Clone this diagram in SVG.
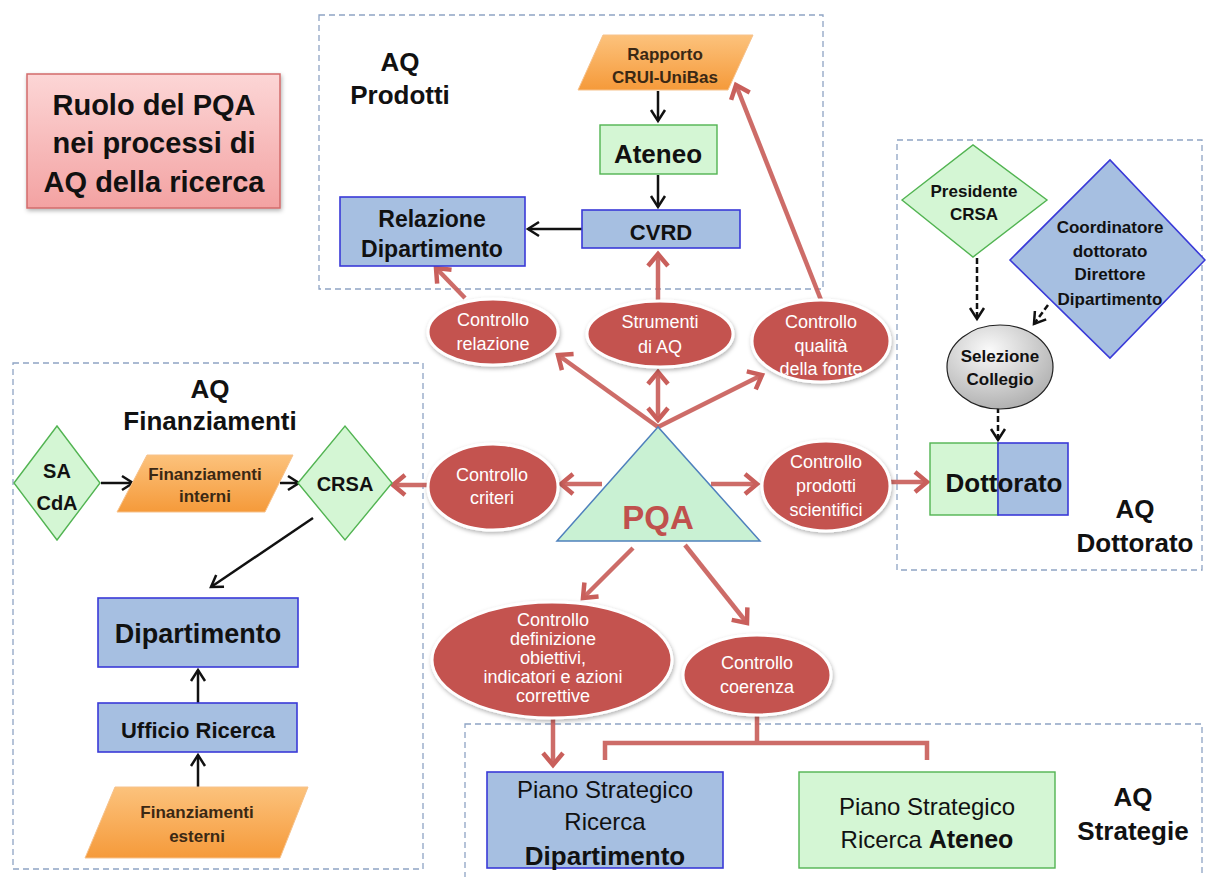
<svg xmlns="http://www.w3.org/2000/svg" width="1206" height="877" viewBox="0 0 1206 877">
<style>
text{font-family:"Liberation Sans",Arial,sans-serif;text-anchor:middle;fill:#111}
.b{font-weight:bold}
.grp{fill:none;stroke:#8ea4c4;stroke-width:1.3;stroke-dasharray:6 4}
.blue{fill:#a6bfe1;stroke:#3a3ad8;stroke-width:1.6}
.green{fill:#d4f6d4;stroke:#52b452;stroke-width:1.4}
.orange{fill:url(#og);stroke:#f6c28c;stroke-width:1}
.ell{fill:#c4524f;stroke:#fff;stroke-width:3;filter:url(#sh)}
.et{fill:#fff;font-size:18px}
.ot{font-size:17px;font-weight:bold;fill:#3a2814}
.red{stroke:#c95f5b;stroke-width:4.5;fill:none;stroke-opacity:.92}
.blk{stroke:#111;stroke-width:2.5;fill:none}
.dsh{stroke:#111;stroke-width:2.5;fill:none;stroke-dasharray:6 3}
.lbl{font-size:26px;font-weight:bold}
</style>
<defs>
<linearGradient id="og" x1="0" y1="0" x2="0" y2="1"><stop offset="0" stop-color="#fcc27c"/><stop offset="1" stop-color="#f59a3a"/></linearGradient>
<linearGradient id="tg" x1="0" y1="0" x2="0" y2="1"><stop offset="0" stop-color="#fcd6d6"/><stop offset="1" stop-color="#f3a2a2"/></linearGradient>
<radialGradient id="gg" cx="0.4" cy="0.3" r="0.8"><stop offset="0" stop-color="#fafafa"/><stop offset="1" stop-color="#a8a8a8"/></radialGradient>
<filter id="sh" x="-20%" y="-20%" width="140%" height="150%"><feDropShadow dx="1" dy="2" stdDeviation="2" flood-color="#000" flood-opacity="0.3"/></filter>
<marker id="ra" viewBox="0 0 20 24" markerWidth="20" markerHeight="24" refX="16" refY="12" orient="auto-start-reverse" markerUnits="userSpaceOnUse"><path d="M4,2 L16,12 L4,22" fill="none" stroke="#c95f5b" stroke-width="4.5"/></marker>
<marker id="ba" viewBox="0 0 16 18" markerWidth="16" markerHeight="18" refX="13" refY="9" orient="auto" markerUnits="userSpaceOnUse"><path d="M2,2 L13,9 L2,16" fill="none" stroke="#111" stroke-width="2.5"/></marker>
</defs>
<rect width="1206" height="877" fill="#fff"/>

<g id="groups">
<rect class="grp" x="319" y="15" width="504" height="274"/>
<rect class="grp" x="13" y="363" width="410" height="506"/>
<rect class="grp" x="897" y="140" width="305" height="430"/>
<rect class="grp" x="465" y="724" width="737" height="160"/>
</g>

<g id="title">
<rect x="27" y="74" width="253" height="134" fill="url(#tg)" stroke="#d26b6b" stroke-width="1.5" filter="url(#sh)"/>
<text class="b" font-size="29" x="154" y="115">Ruolo del PQA</text>
<text class="b" font-size="29" x="154" y="153">nei processi di</text>
<text class="b" font-size="29" x="154" y="192">AQ della ricerca</text>
</g>

<g id="labels">
<text class="lbl" x="400" y="71">AQ</text><text class="lbl" x="400" y="104">Prodotti</text>
<text class="lbl" x="210" y="398">AQ</text><text class="lbl" x="210" y="430">Finanziamenti</text>
<text class="lbl" x="1135" y="518">AQ</text><text class="lbl" x="1135" y="552">Dottorato</text>
<text class="lbl" x="1133" y="806">AQ</text><text class="lbl" x="1133" y="840">Strategie</text>
</g>

<g id="connectors">
<line class="blk" x1="658" y1="91" x2="658" y2="121" marker-end="url(#ba)"/>
<line class="blk" x1="658" y1="175" x2="658" y2="207" marker-end="url(#ba)"/>
<line class="blk" x1="582" y1="229" x2="528" y2="229" marker-end="url(#ba)"/>
<line class="blk" x1="101" y1="483" x2="133" y2="483" marker-end="url(#ba)"/>
<line class="blk" x1="280" y1="483" x2="299" y2="483" marker-end="url(#ba)"/>
<line class="blk" x1="313" y1="518" x2="211" y2="587" marker-end="url(#ba)"/>
<line class="blk" x1="198" y1="703" x2="198" y2="670" marker-end="url(#ba)"/>
<line class="blk" x1="198" y1="788" x2="198" y2="755" marker-end="url(#ba)"/>
<line class="dsh" x1="977" y1="258" x2="977" y2="319" marker-end="url(#ba)"/>
<line class="dsh" x1="1048" y1="305" x2="1034" y2="324" marker-end="url(#ba)"/>
<line class="dsh" x1="998" y1="407" x2="998" y2="440" marker-end="url(#ba)"/>
<line class="red" x1="658" y1="427" x2="558" y2="355" marker-end="url(#ra)"/>
<line class="red" x1="658" y1="420" x2="658" y2="372" marker-start="url(#ra)" marker-end="url(#ra)"/>
<line class="red" x1="658" y1="427" x2="762" y2="375" marker-end="url(#ra)"/>
<line class="red" x1="602" y1="484" x2="561" y2="484" marker-end="url(#ra)"/>
<line class="red" x1="711" y1="484" x2="757" y2="484" marker-end="url(#ra)"/>
<line class="red" x1="633" y1="548" x2="583" y2="598" marker-end="url(#ra)"/>
<line class="red" x1="685" y1="545" x2="747" y2="623" marker-end="url(#ra)"/>
<line class="red" x1="465" y1="298" x2="436" y2="268" marker-end="url(#ra)"/>
<line class="red" x1="658" y1="300" x2="658" y2="254" marker-end="url(#ra)"/>
<line class="red" x1="821" y1="300" x2="736" y2="85" marker-end="url(#ra)"/>
<line class="red" x1="428" y1="485" x2="393" y2="485" marker-end="url(#ra)"/>
<line class="red" x1="891" y1="482" x2="927" y2="482" marker-end="url(#ra)"/>
<line class="red" x1="553" y1="718" x2="553" y2="765" marker-end="url(#ra)"/>
<path class="red" d="M605,760 L605,743 L927,743 L927,760 M757,716 L757,743"/>
</g>

<g id="rapporto"><polygon class="orange" points="603,35 753,35 728,90 578,90"/><text class="ot" x="665" y="60">Rapporto</text><text class="ot" font-size="16" x="665" y="83">CRUI-UniBas</text></g>
<g id="ateneo"><rect class="green" x="600" y="125" width="117" height="49"/><text class="b" font-size="26" x="658" y="163">Ateneo</text></g>
<g id="cvrd"><rect class="blue" x="582" y="210" width="158" height="38"/><text class="b" font-size="22" x="661" y="240">CVRD</text></g>
<g id="relazione"><rect class="blue" x="340" y="197" width="185" height="69"/><text class="b" font-size="23" x="432" y="227">Relazione</text><text class="b" font-size="23" x="432" y="257">Dipartimento</text></g>

<g id="sacda"><polygon class="green" points="14,483 57,426 100,483 57,540"/><text class="b" font-size="20" x="57" y="478">SA</text><text class="b" font-size="20" x="57" y="510">CdA</text></g>
<g id="fin-interni"><polygon class="orange" points="147,455 293,455 265,512 117,512"/><text class="ot" x="205" y="480">Finanziamenti</text><text class="ot" x="205" y="502">interni</text></g>
<g id="crsa"><polygon class="green" points="298,483 345,426 392,483 345,540"/><text class="b" font-size="20" x="345" y="491">CRSA</text></g>
<g id="dipartimento"><rect class="blue" x="98" y="598" width="200" height="69"/><text class="b" font-size="27" x="198" y="643">Dipartimento</text></g>
<g id="ufficio"><rect class="blue" x="98" y="703" width="199" height="49"/><text class="b" font-size="22" x="198" y="738">Ufficio Ricerca</text></g>
<g id="fin-esterni"><polygon class="orange" points="115,787 308,787 280,858 85,858"/><text class="ot" x="197" y="818">Finanziamenti</text><text class="ot" x="197" y="842">esterni</text></g>

<g id="presidente"><polygon class="green" points="902,200 973,145 1047,200 973,257"/><text class="b" font-size="17" x="974" y="197">Presidente</text><text class="b" font-size="17" x="974" y="220">CRSA</text></g>
<g id="coordinatore"><polygon class="blue" points="1010,260 1110,160 1205,260 1110,358"/><text class="b" font-size="17" x="1110" y="233">Coordinatore</text><text class="b" font-size="17" x="1110" y="257">dottorato</text><text class="b" font-size="17" x="1110" y="280">Direttore</text><text class="b" font-size="17" x="1110" y="305">Dipartimento</text></g>
<g id="selezione"><ellipse cx="1000" cy="367" rx="53" ry="42" fill="url(#gg)" stroke="#222" stroke-width="1.2"/><text class="b" font-size="17" x="1000" y="362">Selezione</text><text class="b" font-size="17" x="1000" y="385">Collegio</text></g>
<g id="dottorato"><rect x="930" y="443" width="68" height="72" fill="#d4f6d4" stroke="#52b452" stroke-width="1.4"/><rect class="blue" x="998" y="443" width="70" height="72"/><text class="b" font-size="26" x="1004" y="492">Dottorato</text></g>

<g id="pqa"><polygon points="658,427 557,541 760,541" fill="#c9f1d3" stroke="#4f81bd" stroke-width="1.5"/><text class="b" font-size="33" x="658" y="529" style="fill:#c0504d">PQA</text></g>

<g id="c-relazione"><ellipse class="ell" cx="493" cy="332" rx="65" ry="33"/><text class="et" x="493" y="326">Controllo</text><text class="et" x="493" y="350">relazione</text></g>
<g id="c-strumenti"><ellipse class="ell" cx="660" cy="334" rx="73" ry="33"/><text class="et" x="660" y="328">Strumenti</text><text class="et" x="660" y="353">di AQ</text></g>
<g id="c-qualita"><ellipse class="ell" cx="821" cy="341" rx="69" ry="41"/><text class="et" x="821" y="328">Controllo</text><text class="et" x="821" y="352">qualità</text><text class="et" x="821" y="375">della fonte</text></g>
<g id="c-criteri"><ellipse class="ell" cx="493" cy="487" rx="65" ry="43"/><text class="et" x="492" y="481">Controllo</text><text class="et" x="492" y="504">criteri</text></g>
<g id="c-prodotti"><ellipse class="ell" cx="826" cy="486" rx="64" ry="45"/><text class="et" x="826" y="468">Controllo</text><text class="et" x="826" y="492">prodotti</text><text class="et" x="826" y="516">scientifici</text></g>
<g id="c-definizione"><ellipse class="ell" cx="552" cy="660" rx="120" ry="58"/><text class="et" x="553" y="626">Controllo</text><text class="et" x="553" y="645">definizione</text><text class="et" x="553" y="664">obiettivi,</text><text class="et" x="553" y="683">indicatori e azioni</text><text class="et" x="553" y="702">correttive</text></g>
<g id="c-coerenza"><ellipse class="ell" cx="757" cy="675" rx="74" ry="40"/><text class="et" x="757" y="669">Controllo</text><text class="et" x="757" y="693">coerenza</text></g>

<g id="piano-dip"><rect class="blue" x="487" y="772" width="236" height="96"/><text font-size="24" x="605" y="798">Piano Strategico</text><text font-size="24" x="605" y="830">Ricerca</text><text class="b" font-size="26" x="605" y="865">Dipartimento</text></g>
<g id="piano-ateneo"><rect class="green" x="799" y="772" width="256" height="96"/><text font-size="24" x="927" y="815">Piano Strategico</text><text font-size="24" x="927" y="848">Ricerca <tspan font-weight="bold" font-size="25">Ateneo</tspan></text></g>
</svg>
